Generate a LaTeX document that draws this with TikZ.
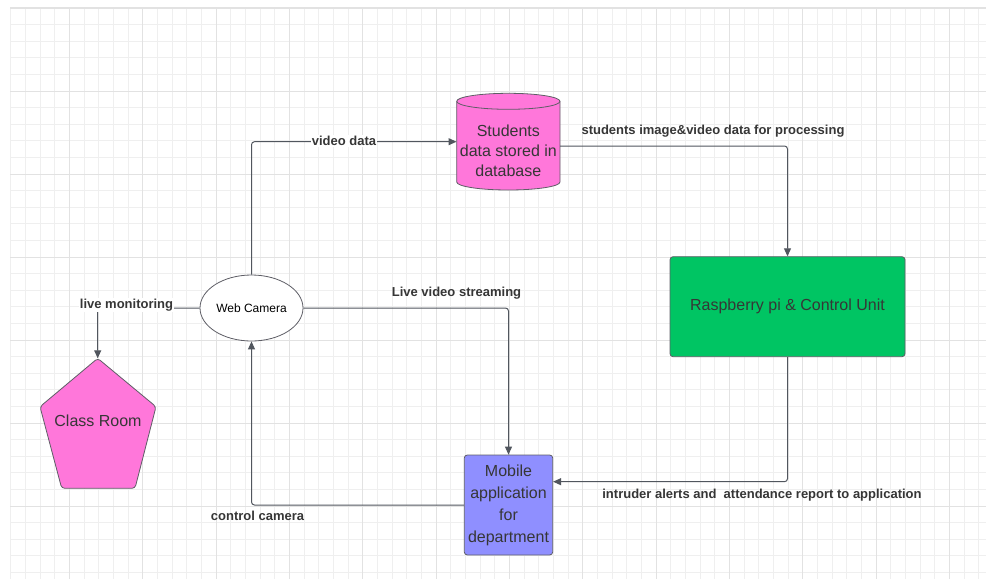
\documentclass[tikz,border=0pt]{standalone}
\usepackage{fontspec}
\setmainfont{Liberation Sans}
\usetikzlibrary{arrows.meta,shapes.geometric,calc}
\definecolor{minorgrid}{HTML}{EFEFEF}
\definecolor{majorgrid}{HTML}{E2E2E2}
\definecolor{edgecol}{HTML}{51565E}
\definecolor{txtcol}{HTML}{363636}
\definecolor{pinkfill}{HTML}{FF77DA}
\definecolor{greenfill}{HTML}{00C563}
\definecolor{bluefill}{HTML}{8F8FFF}
\definecolor{bordercol}{HTML}{5E5E66}
\tikzset{
  conn/.style={draw=edgecol, line width=1pt, rounded corners=3pt, -{Triangle[length=8pt,width=7pt]}},
  lbl/.style={font=\fontsize{13}{15}\selectfont\bfseries, text=txtcol, inner sep=1pt},
  lblbg/.style={lbl, fill=white},
  shapetxt/.style={font=\fontsize{16}{20}\selectfont, text=txtcol, align=center},
}
\begin{document}
\begin{tikzpicture}[x=1pt,y=-1pt]
\useasboundingbox (0,0) rectangle (986,579);
\fill[white] (0,0) rectangle (986,579);
% grid
\foreach \i in {1,...,67} {
  \draw[minorgrid, line width=0.8pt] ({-4+14.6667*\i},8) -- ({-4+14.6667*\i},579);
}
\foreach \j in {0,...,34} {
  \draw[minorgrid, line width=0.8pt] (10,{8+16.6*\j}) -- (986,{8+16.6*\j});
}
\foreach \i in {1,...,13} {
  \draw[majorgrid, line width=0.9pt] ({-4+73.3333*\i},8) -- ({-4+73.3333*\i},579);
}
\foreach \j in {1,...,6} {
  \draw[majorgrid, line width=0.9pt] (10,{8+83*\j}) -- (986,{8+83*\j});
}
\draw[majorgrid, line width=2pt] (10,7.5) -- (986,7.5);

% database cylinder
\fill[pinkfill] (456.7,101.3) -- (456.7,182) arc[start angle=180,end angle=0,x radius=51.65,y radius=8]
  -- (560,101.3) arc[start angle=0,end angle=-180,x radius=51.65,y radius=8] -- cycle;
\draw[bordercol, line width=0.8pt] (456.7,101.3) -- (456.7,182) arc[start angle=180,end angle=0,x radius=51.65,y radius=8]
  -- (560,101.3) arc[start angle=0,end angle=-180,x radius=51.65,y radius=8];
\draw[bordercol, line width=0.8pt] (456.7,101.3) arc[start angle=180,end angle=0,x radius=51.65,y radius=8];
\node[minimum width=103.3pt, minimum height=96.7pt, inner sep=0pt] (db) at (508.35,141.7) {};
\node[shapetxt] (dbtxt) at (508.35,151) {Students\\data stored in\\database};

% class room pentagon
\draw[bordercol, fill=pinkfill, line width=0.8pt, rounded corners=3pt]
  (97.7,358.3) -- (156,406.7) -- (135,488.3) -- (61.7,488.3) -- (40,406.7) -- cycle;
\coordinate (crtop) at (97.7,358.3);
\node[shapetxt] (cr) at (98,421) {Class Room};

% web camera
\node[ellipse, draw=bordercol, fill=white, line width=0.8pt, minimum width=103pt, minimum height=66pt, inner sep=0pt,
  font=\fontsize{12}{14}\selectfont, text=black] (wc) at (251.5,308) {Web Camera};

% raspberry pi
\node[rectangle, rounded corners=3pt, draw=bordercol, fill=greenfill, line width=0.8pt, minimum width=235pt, minimum height=100pt,
  shapetxt] (pi) at (787.5,306.7) {Raspberry pi \& Control Unit};

% mobile app
\node[rectangle, rounded corners=3pt, draw=bordercol, fill=bluefill, line width=0.8pt, minimum width=88.4pt, minimum height=100pt,
  inner sep=0pt, shapetxt, font=\fontsize{16}{22}\selectfont] (mob) at (508.5,505)
  {Mobile\\application\\for\\department};

% connectors
\draw[conn] (wc.north) |- (db.west);
\node[lblbg] (l1) at (344,141) {video data};

\draw[conn] ($(db.east)+(0,4.3)$) -| (pi.north);
\node[lbl] (l2) at (713,131.5) {students image\&video data for processing};

\draw[conn] (wc.east) -| (mob.north);
\node[lbl] (l3) at (456.5,293) {Live video streaming};

\draw[conn] (pi.south) |- ($(mob.east)+(0,-23.3)$);
\node[lbl] (l4) at (762,495) {intruder alerts and\ \ attendance report to application};

\draw[conn] (mob.west) -| (wc.south);
\node[lbl] (l5) at (257.5,516) {control camera};

\draw[conn] (wc.west) -| (crtop);
\node[lblbg] (l6) at (126.5,305) {live monitoring};
\end{tikzpicture}
\end{document}
